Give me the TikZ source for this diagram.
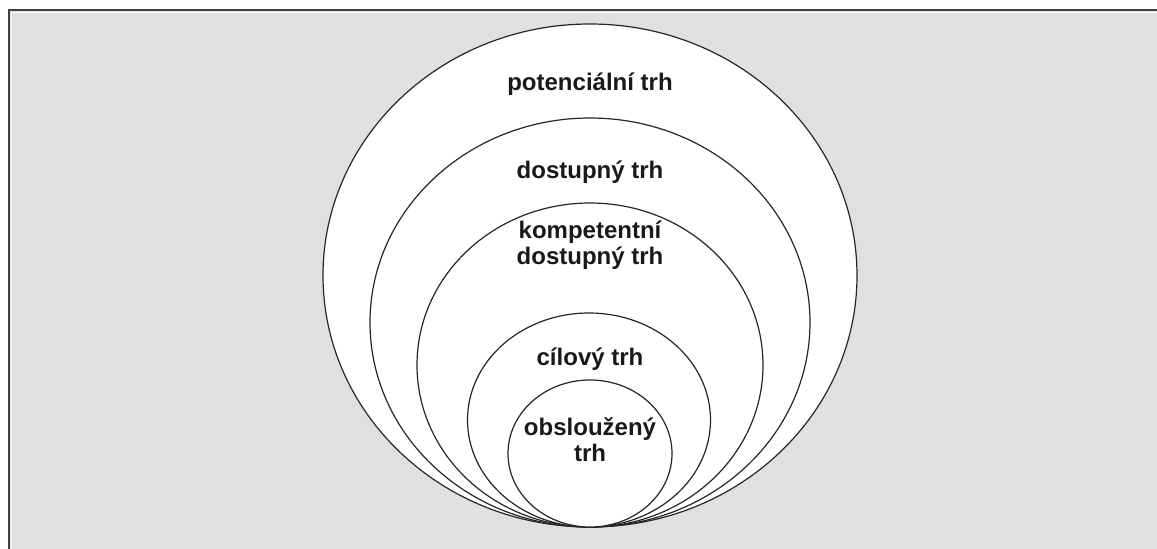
\documentclass[tikz,border=0pt]{standalone}
\usepackage{fontspec}
\setmainfont{Liberation Sans}
\usetikzlibrary{shapes.geometric}
\begin{document}
\begin{tikzpicture}[x=1pt,y=-1pt,
  market/.style={ellipse, draw=black!85, line width=1.2pt, fill=white, inner sep=0pt},
  lbl/.style={font=\bfseries\fontsize{24}{26}\selectfont, text=black!90, align=center, inner sep=0pt, anchor=base}]
  \useasboundingbox (0,0) rectangle (1157,549);
  % panel with sunken frame
  \fill[white] (0,0) rectangle (1157,549);
  \fill[black!12] (9,10) rectangle (1157,549);
  \draw[black!75, line width=2pt] (9,549) -- (9,10) -- (1157,10);
  \draw[white!85!black!12, line width=1pt] (11.5,549) -- (11.5,12.5) -- (1157,12.5);
  % nested markets, all touching at the bottom
  \node[market, minimum width=534pt, minimum height=503pt] (pot)  at (590,275.5) {};
  \node[market, minimum width=440pt, minimum height=409pt] (dost) at (590,322.5) {};
  \node[market, minimum width=346pt, minimum height=324pt] (komp) at (590,365) {};
  \node[market, minimum width=243pt, minimum height=214pt] (cil)  at (589,420) {};
  \node[market, minimum width=164pt, minimum height=147pt] (obs)  at (590,453.5) {};
  % labels
  \node[lbl] (tpot)  at (590,90)  {potenciální trh};
  \node[lbl] (tdost) at (590,178) {dostupný trh};
  \node[lbl] (tkomp) at (590,264) {kompetentní\\dostupný trh};
  \node[lbl] (tcil)  at (590,365) {cílový trh};
  \node[lbl] (tobs)  at (590,461) {obsloužený\\trh};
\end{tikzpicture}
\end{document}
